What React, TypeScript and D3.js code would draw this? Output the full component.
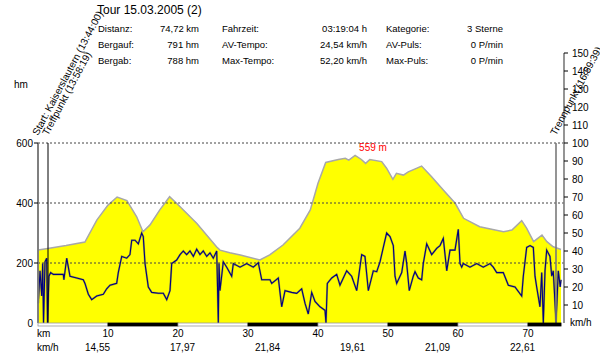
import React from 'react';
import * as d3 from 'd3';

const title = 'Tour 15.03.2005 (2)';
const infoLabelsA = ['Distanz:', 'Bergauf:', 'Bergab:'];
const infoValuesA = ['74,72 km', '791 hm', '788 hm'];
const infoLabelsB = ['Fahrzeit:', 'AV-Tempo:', 'Max-Tempo:'];
const infoValuesB = ['03:19:04 h', '24,54 km/h', '52,20 km/h'];
const infoLabelsC = ['Kategorie:', 'AV-Puls:', 'Max-Puls:'];
const infoValuesC = ['3 Sterne', '0 P/min', '0 P/min'];

const totalKm = 74.72;

const elevKm = [0, 1.4, 4, 6.7, 8.4, 10, 11.3, 12.7, 14.1, 15.0, 16, 17.4, 18.8, 19.8, 22.7, 25.5, 26, 27.4, 28.9, 31.7, 33.1, 35, 37.4, 38.9, 40, 41.1, 42.9, 43.9, 44.4, 45.3, 46.2, 46.8, 47.4, 49.1, 49.8, 50.7, 51.2, 52.2, 52.9, 54.8, 56.2, 57.9, 59.6, 60.8, 63.1, 66.5, 67.7, 69.1, 69.8, 70.8, 72.0, 72.7, 73.6, 74.72];
const elevM = [243, 248, 258, 270, 343, 393, 420, 408, 354, 304, 327, 377, 421, 399, 332, 254, 243, 234, 227, 210, 227, 260, 316, 377, 466, 535, 545, 549, 543, 559, 545, 532, 545, 538, 516, 479, 499, 493, 504, 523, 488, 443, 399, 349, 321, 304, 310, 341, 316, 271, 293, 271, 254, 245];

const speedKm = [0.04, 0.29, 0.53, 0.67, 0.79, 1.0, 1.24, 1.36, 1.57, 1.81, 2.19, 3.61, 3.7, 4.1, 4.57, 5.53, 6.47, 6.71, 7.19, 7.67, 8.39, 9.33, 9.81, 10.29, 11.24, 11.47, 11.96, 12.67, 13.14, 13.39, 13.86, 14.33, 14.81, 15.04, 15.29, 15.76, 16.24, 17.19, 17.9, 18.39, 18.86, 19.1, 19.81, 20.29, 20.76, 21.24, 21.71, 22.19, 22.67, 23.14, 23.61, 24.1, 24.57, 25.04, 25.53, 25.76, 25.86, 26.0, 26.47, 26.96, 27.67, 27.9, 28.86, 29.81, 30.76, 31.47, 31.96, 33.14, 33.39, 34.33, 34.81, 35.29, 36.24, 36.96, 37.67, 38.14, 38.61, 39.1, 39.57, 40.29, 41.0, 41.14, 41.33, 41.96, 42.67, 43.14, 44.1, 44.81, 45.53, 46.24, 46.71, 47.19, 47.9, 48.39, 48.86, 49.33, 49.81, 50.29, 50.76, 51.0, 51.24, 51.96, 52.43, 52.67, 53.04, 53.61, 53.86, 54.33, 54.81, 55.04, 55.53, 56.24, 56.96, 57.43, 57.9, 58.39, 58.86, 59.57, 60.04, 60.29, 60.53, 60.76, 61.71, 62.67, 63.61, 64.57, 65.04, 65.53, 66.47, 67.19, 68.14, 69.1, 69.33, 69.81, 70.29, 70.76, 71.0, 71.24, 71.71, 71.96, 72.19, 72.43, 72.67, 73.14, 73.39, 73.61, 73.86, 74.0, 74.33, 74.6, 74.72];
const speedKmh = [11, 29, 15, 33, 0, 34, 36, 0, 26, 28, 27, 27, 24, 36, 26, 25, 24, 22, 16, 13, 15, 16, 19, 21, 22, 28, 37, 36, 38, 46, 46, 44, 50, 48, 33, 20, 17, 16.5, 16.5, 13, 18, 33, 35, 38, 40, 38, 40, 37, 41, 38, 40, 37, 39, 36, 40, 0, 33, 18, 34, 31, 26, 33, 31, 33, 31, 33.5, 24, 24, 22, 25, 9, 18, 17, 16.5, 19, 11, 5, 17, 12, 9, 7, 0, 22, 25, 27, 21, 29, 26, 18, 38, 37, 18, 29, 28.5, 34, 42, 50, 48, 43, 26, 22, 28, 40, 33, 18, 26, 28.5, 25, 24, 33, 44, 38, 41.5, 43, 47, 29, 40.5, 40.5, 52, 33, 31, 33, 31, 33, 31, 33, 31, 28, 28, 21, 20, 15, 26, 42, 43, 42, 26, 20, 9, 28, 0, 29, 40.5, 37, 26, 29, 11, 0, 29, 20, 24];

const kmTicks = [10, 20, 30, 40, 50, 60, 70];
const elevTicks = [0, 200, 400, 600];
const elevGrid = [200, 400, 600];
const speedTicks = [10, 20, 30, 40, 50, 60, 70, 80, 90, 100, 110, 120, 130, 140, 150];
const segmentSpeeds = ['14,55', '17,97', '21,84', '19,61', '21,09', '22,61'];
const waypointKm = [0, 1.43, 74.0];
const waypointLabels = ['Start: Kaiserslautern (13:44:00)', 'Treffpunkt (13:58:19)', 'Trennpunkt (16:59:39)'];
const maxElevLabel = '559 m';

const FONT = '"Liberation Sans", Arial, sans-serif';

export default function App() {
  const x = d3.scaleLinear().domain([0, totalKm]).range([38, 38 + 7 * totalKm]);
  const yE = d3.scaleLinear().domain([0, 600]).range([323, 143]);
  const yS = d3.scaleLinear().domain([0, 100]).range([323, 143]);
  const segX = d3.scaleLinear().domain([0, 1]).range([0, 85]);
  const rightX = 564;

  const elevData = elevKm.map((k, i) => [k, elevM[i]] as [number, number]);
  const speedData = speedKm.map((k, i) => [k, speedKmh[i]] as [number, number]);

  const area = d3.area<[number, number]>().x(d => x(d[0])).y0(yE(0)).y1(d => yE(d[1]));
  const elevLine = d3.line<[number, number]>().x(d => x(d[0])).y(d => yE(d[1]));
  const speedLine = d3.line<[number, number]>().x(d => x(d[0])).y(d => yS(d[1]));

  const peakIdx = d3.maxIndex(elevM);

  const segs = d3.range(0, Math.ceil(totalKm / 10)).map(i => [i * 10, Math.min((i + 1) * 10, totalKm)]);

  const infoCols = [
    { labels: infoLabelsA, values: infoValuesA, lx: 98, vx: 199 },
    { labels: infoLabelsB, values: infoValuesB, lx: 222, vx: 367 },
    { labels: infoLabelsC, values: infoValuesC, lx: 386, vx: 503 },
  ];
  const rowY = [32, 48, 64];

  return (
    <svg width={600} height={356} style={{ position: 'absolute', left: 0, top: 0, background: '#fff' }} fontFamily={FONT}>
      <rect x={0} y={0} width={600} height={356} fill="#fff" />
      <path d={area(elevData) || ''} fill="#ffff00" />
      <path d={elevLine(elevData) || ''} fill="none" stroke="#a8a8a8" strokeWidth={1.5} />
      {elevGrid.map(t => (
        <line key={t} x1={38} x2={rightX} y1={yE(t)} y2={yE(t)} stroke="#444" strokeDasharray="2 2" strokeWidth={1} />
      ))}
      <path d={speedLine(speedData) || ''} fill="none" stroke="#6a6a50" strokeWidth={2} strokeOpacity={0.55} />
      <path d={speedLine(speedData) || ''} fill="none" stroke="#000080" strokeWidth={1.1} />
      {waypointKm.map((k, i) => (
        <line key={i} x1={x(k)} x2={x(k)} y1={yE(600)} y2={yE(0)}
          stroke={i === 1 ? '#000' : '#7a7a7a'} strokeWidth={i === 1 ? 1 : 1.6} />
      ))}
      <line x1={38} x2={38} y1={yE(600)} y2={yE(0)} stroke="#7a7a7a" strokeWidth={1.6} />
      {elevTicks.map(t => (
        <g key={t}>
          {t > 0 && <line x1={34} x2={38} y1={yE(t)} y2={yE(t)} stroke="#000" />}
          <text x={33} y={yE(t) + 4} fontSize={10} textAnchor="end">{t}</text>
        </g>
      ))}
      <text x={14} y={88} fontSize={10}>hm</text>
      <line x1={rightX} x2={rightX} y1={yS(150)} y2={yS(0)} stroke="#7a7a7a" strokeWidth={1.6} />
      {speedTicks.map(t => (
        <g key={t}>
          <line x1={rightX} x2={rightX + 4} y1={yS(t)} y2={yS(t)} stroke="#000" />
          <text x={572} y={yS(t) + 4} fontSize={10}>{t}</text>
        </g>
      ))}
      <text x={570} y={yS(0) + 3} fontSize={10}>km/h</text>
      {segs.map((s, i) => (
        <rect key={i} x={x(s[0])} y={323} width={x(s[1]) - x(s[0])} height={3}
          fill={i % 2 === 0 ? '#fff' : '#000'} stroke={i % 2 === 0 ? '#999' : '#000'} strokeWidth={0.8} />
      ))}
      <text x={37} y={337} fontSize={10}>km</text>
      {kmTicks.map(t => (
        <text key={t} x={x(t)} y={337} fontSize={10} textAnchor="middle">{t}</text>
      ))}
      <text x={37} y={351} fontSize={10}>km/h</text>
      {segmentSpeeds.map((s, i) => (
        <text key={i} x={segX(i + 1)} y={351} fontSize={10}>{s}</text>
      ))}
      <text x={x(elevKm[peakIdx]) + 4} y={yE(600) + 8} fontSize={10} fill="#ff0000">{maxElevLabel}</text>
      {waypointKm.map((k, i) => (
        <text key={i} x={0} y={0} fontSize={10} transform={`translate(${x(k)},136) rotate(-62)`}>{waypointLabels[i]}</text>
      ))}
      <text x={97} y={14} fontSize={12}>{title}</text>
      {infoCols.map((c, ci) => (
        <g key={ci}>
          {c.labels.map((l, ri) => (
            <text key={'l' + ri} x={c.lx} y={rowY[ri]} fontSize={9.5}>{l}</text>
          ))}
          {c.values.map((v, ri) => (
            <text key={'v' + ri} x={c.vx} y={rowY[ri]} fontSize={9.5} textAnchor="end">{v}</text>
          ))}
        </g>
      ))}
    </svg>
  );
}
